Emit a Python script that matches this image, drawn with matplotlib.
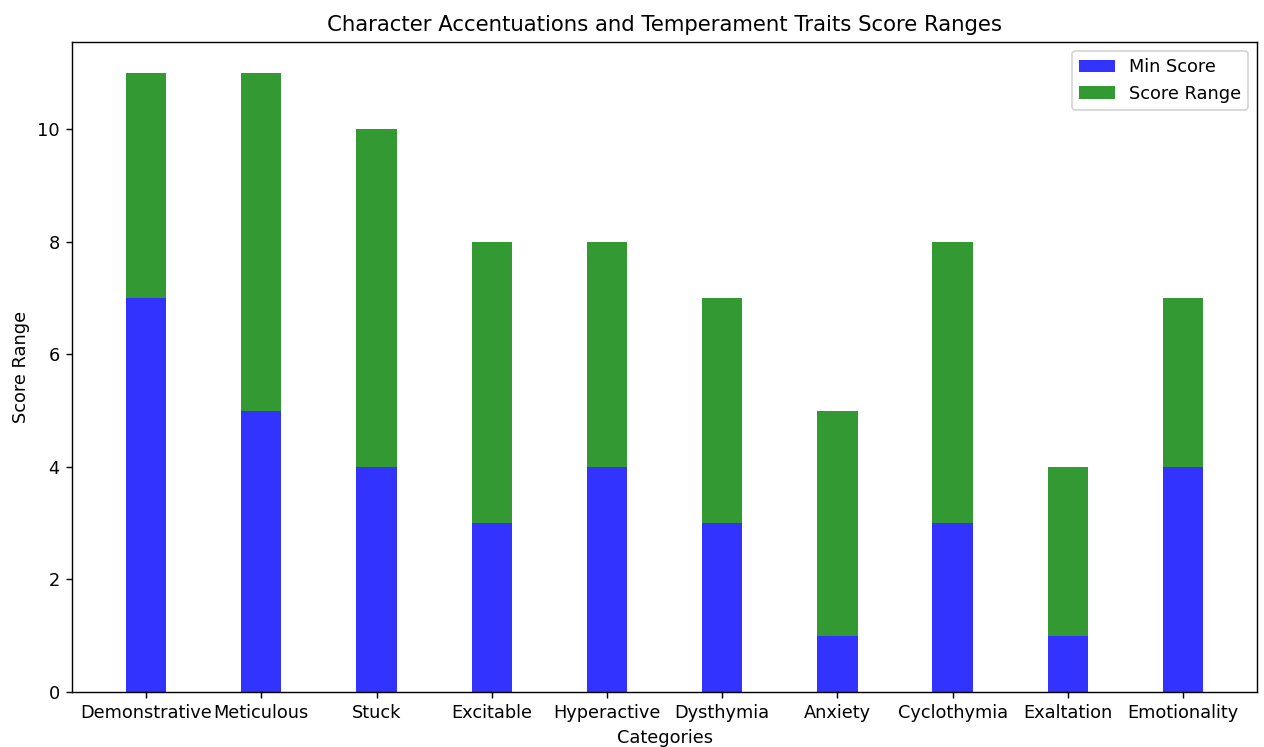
import matplotlib
matplotlib.use("Agg")
import matplotlib.pyplot as plt
import numpy as np

categories = ["Demonstrative", "Meticulous", "Stuck", "Excitable", "Hyperactive",
              "Dysthymia", "Anxiety", "Cyclothymia", "Exaltation", "Emotionality"]
min_scores = [7, 5, 4, 3, 4, 3, 1, 3, 1, 4]
max_scores = [11, 11, 10, 8, 8, 7, 5, 8, 4, 7]
score_range = [mx - mn for mx, mn in zip(max_scores, min_scores)]

DPI = 127.5
fig, ax = plt.subplots(figsize=(1264 / DPI, 747 / DPI), dpi=DPI)
x = np.arange(len(categories))
w = 0.35
ax.bar(x, min_scores, w, color="blue", alpha=0.8, label="Min Score")
ax.bar(x, score_range, w, bottom=min_scores, color="green", alpha=0.8, label="Score Range")
ax.set_xticks(x)
ax.set_xticklabels(categories)
ax.set_xlabel("Categories")
ax.set_ylabel("Score Range")
ax.set_title("Character Accentuations and Temperament Traits Score Ranges")
ax.legend()
fig.subplots_adjust(left=0.057, right=0.9945, bottom=0.0736, top=0.9438)
fig.savefig("out.png", dpi=DPI)
